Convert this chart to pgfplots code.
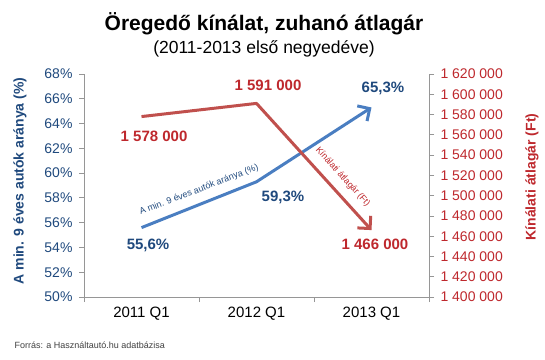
\documentclass[border=0pt]{standalone}
\usepackage{pgfplots}
\pgfplotsset{compat=1.18}
\usepackage{fontspec}
\setmainfont{Liberation Sans}
\usetikzlibrary{arrows.meta}
\definecolor{blueline}{RGB}{74,126,193}
\definecolor{bluetext}{RGB}{31,73,125}
\definecolor{redline}{RGB}{192,80,77}
\definecolor{redtext}{RGB}{190,40,45}
\definecolor{axisgrey}{RGB}{150,150,150}
\newcommand{\fs}[1]{\fontsize{#1}{#1}\selectfont}
\begin{document}
\begin{tikzpicture}
\path[use as bounding box] (0,0) rectangle (545pt,359pt);
\node[font=\fs{21}\bfseries] at (264pt,335pt) {Öregedő kínálat, zuhanó átlagár};
\node[font=\fs{17.5}] at (264pt,310pt) {(2011-2013 első negyedéve)};
\node[font=\fs{9}, anchor=west, text=black!75] at (11pt,14pt) {Forrás: a Használtautó.hu adatbázisa};
\node[font=\fs{14}\bfseries, text=bluetext, rotate=90] at (20pt,178pt) {A min. 9 éves autók aránya (\%)};
\node[font=\fs{14}\bfseries, text=redtext, rotate=90] at (532pt,182pt) {Kínálati átlagár (Ft)};
\begin{axis}[
  at={(84pt,62pt)}, anchor=south west,
  scale only axis, width=345pt, height=223pt,
  xmin=-0.5, xmax=2.5, ymin=50, ymax=68,
  axis x line*=bottom, axis y line*=left,
  axis line style={axisgrey, line width=0.8pt},
  xtick={0,1,2}, xticklabels={2011 Q1,2012 Q1,2013 Q1},
  minor xtick={-0.5,0.5,1.5,2.5},
  x tick style={draw=none},
  minor x tick style={draw=axisgrey, line width=0.8pt},
  minor tick length=5pt,
  xticklabel style={font=\fs{15}, text=black, yshift=-1pt},
  ytick={50,52,...,68},
  yticklabels={50\%,52\%,54\%,56\%,58\%,60\%,62\%,64\%,66\%,68\%},
  yticklabel style={font=\fs{14}, text=bluetext, xshift=-3pt},
  y tick style={draw=axisgrey, line width=0.8pt},
  major tick length=5pt, tick align=outside,
  clip=false,
]
\addplot[blueline, line width=3pt, line join=round, -{Straight Barb[length=9pt,width=18pt,line width=3pt]}] coordinates {(0,55.6) (1,59.3) (2,65.3)};
\node[font=\fs{15}\bfseries, text=bluetext] at (axis cs:0.057,54.2) {55,6\%};
\node[font=\fs{15}\bfseries, text=bluetext] at (axis cs:1.23,58.0) {59,3\%};
\node[font=\fs{15}\bfseries, text=bluetext] at (axis cs:2.10,66.8) {65,3\%};
\node[font=\fs{9}, text=bluetext, rotate=21] at (axis cs:0.5,58.64) {A min. 9 éves autók aránya (\%)};
\end{axis}
\begin{axis}[
  at={(84pt,62pt)}, anchor=south west,
  scale only axis, width=345pt, height=223pt,
  xmin=-0.5, xmax=2.5, ymin=1400000, ymax=1620000,
  axis x line=none, axis y line*=right,
  axis line style={axisgrey, line width=0.8pt},
  ytick={1400000,1420000,...,1620000},
  yticklabels={1 400 000,1 420 000,1 440 000,1 460 000,1 480 000,1 500 000,1 520 000,1 540 000,1 560 000,1 580 000,1 600 000,1 620 000},
  yticklabel style={font=\fs{14}, text=redtext, xshift=3pt},
  y tick style={draw=axisgrey, line width=0.8pt},
  major tick length=5pt, tick align=outside,
  scaled y ticks=false,
  clip=false,
]
\addplot[redline, line width=3pt, line join=round, -{Straight Barb[length=9pt,width=18pt,line width=3pt]}] coordinates {(0,1578000) (1,1591000) (2,1466000)};
\node[font=\fs{15}\bfseries, text=redtext] at (axis cs:0.109,1558834) {1 578 000};
\node[font=\fs{15}\bfseries, text=redtext] at (axis cs:1.10,1608700) {1 591 000};
\node[font=\fs{15}\bfseries, text=redtext] at (axis cs:2.03,1452000) {1 466 000};
\node[font=\fs{9}, text=redtext, rotate=-48] at (axis cs:1.75,1518386) {Kínálati átlagár (Ft)};
\end{axis}
\end{tikzpicture}
\end{document}
